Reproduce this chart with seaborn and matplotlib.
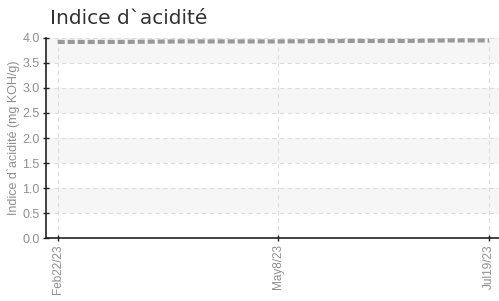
import matplotlib
matplotlib.use("Agg")
import matplotlib.pyplot as plt
import seaborn as sns
import pandas as pd

sns.set_theme(style="white")

# Data
dates = ["2023-02-22", "2023-03-15", "2023-04-05", "2023-04-26", "2023-05-08",
         "2023-05-31", "2023-06-21", "2023-07-05", "2023-07-19"]
values = [3.92, 3.92, 3.93, 3.93, 3.93, 3.94, 3.94, 3.95, 3.95]
tick_dates = ["2023-02-22", "2023-05-08", "2023-07-19"]
tick_labels = ["Feb22/23", "May8/23", "Jul19/23"]
y_ticks = [0.0, 0.5, 1.0, 1.5, 2.0, 2.5, 3.0, 3.5, 4.0]

title = "Indice d`acidité"
ylabel = "Indice d`acidité (mg KOH/g)"

narrow = "Liberation Sans"

df = pd.DataFrame({"date": pd.to_datetime(dates), "value": values})

fig = plt.figure(figsize=(4.99, 3.01), dpi=100)
ax = fig.add_axes([0.092, 0.209, 0.908, 0.665])

# alternating bands
for lo in [0.5, 1.5, 2.5, 3.5]:
    ax.axhspan(lo, lo + 0.5, color="#f6f6f6", zorder=0, lw=0)

sns.lineplot(data=df, x="date", y="value", ax=ax, color="#999999",
             linewidth=3, dashes=False, zorder=3)
ax.lines[-1].set_dashes((1.7, 0.7))

ax.set_ylim(0, 4.0)
ax.set_xlim(pd.Timestamp("2023-02-18"), pd.Timestamp("2023-07-22 10:00"))
ax.set_yticks(y_ticks)
ax.set_yticklabels([f"{v:.1f}" for v in y_ticks], fontfamily=narrow, fontsize=9, color="#8f8f8f")
ax.set_xticks(pd.to_datetime(tick_dates))
ax.set_xticklabels(tick_labels, rotation=90, fontfamily=narrow, fontsize=8.5, color="#8f8f8f")

ax.grid(True, axis="both", linestyle=(0, (4, 3)), color="#dddddd", linewidth=0.8)
ax.set_axisbelow(True)

for s in ["top", "right"]:
    ax.spines[s].set_visible(False)
for s in ["left", "bottom"]:
    ax.spines[s].set_color("#222222")
    ax.spines[s].set_linewidth(1.2)

ax.tick_params(axis="both", direction="inout", length=5, width=1, color="#222222", pad=2,
               left=True, bottom=True)

ax.set_xlabel("")
ax.set_ylabel(ylabel, fontfamily=narrow, fontsize=9, color="#8f8f8f", labelpad=2)
fig.text(0.1, 0.94, title, fontsize=14.5, color="#333333", ha="left", va="center",
         fontfamily="DejaVu Sans")

fig.savefig("out.png", dpi=100)
